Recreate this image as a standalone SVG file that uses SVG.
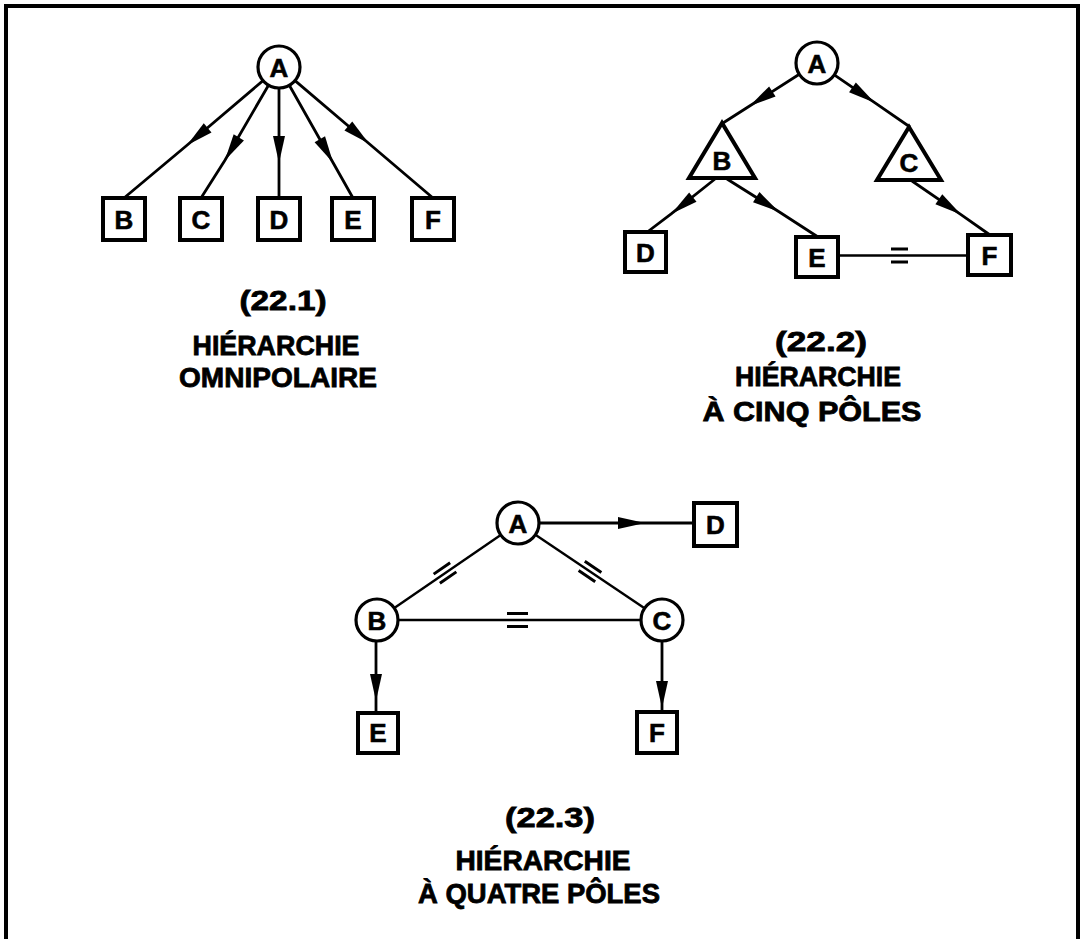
<svg xmlns="http://www.w3.org/2000/svg" width="1084" height="939" viewBox="0 0 1084 939">
<defs>
<style>
.bg{fill:#fff}
.frame{fill:none;stroke:#000;stroke-width:4}
.node{fill:#fff;stroke:#000;stroke-width:4}
.circ{fill:#fff;stroke:#000;stroke-width:3.2}
.lbl{font-family:"Liberation Sans",Arial,sans-serif;font-weight:bold;font-size:26px;fill:#000;stroke:#000;stroke-width:0.6;text-anchor:middle}
.cap{font-family:"Liberation Sans",Arial,sans-serif;font-weight:bold;font-size:28px;fill:#000;stroke:#000;stroke-width:0.8;text-anchor:middle}
.edge{fill:none;stroke:#000;stroke-width:2.8;marker-mid:url(#ah)}
.link{fill:none;stroke:#000;stroke-width:2.4}
.eq{fill:none;stroke:#000;stroke-width:3}
</style>
<marker id="ah" markerUnits="userSpaceOnUse" viewBox="-28 -7 30 14" markerWidth="30" markerHeight="14" refX="0" refY="0" orient="auto">
<path d="M0,0 L-27,-6 L-27,6 Z" fill="#000"/>
</marker>
</defs>
<rect class="bg" x="0" y="0" width="1084" height="939"/>
<path class="frame" d="M6,939 V6 H1078 V939"/>

<g id="connectors">
<!-- diagram 22.1 -->
<path class="edge" d="M263,80.6 L187,145.3 L124,198"/>
<path class="edge" d="M268.5,85.2 L224.8,160.4 L201,198"/>
<path class="edge" d="M279,88 L279,163 L279,198"/>
<path class="edge" d="M289.3,85.3 L333.1,162.7 L353,198"/>
<path class="edge" d="M295,80.6 L368.9,143.5 L433,198"/>
<!-- diagram 22.2 -->
<path class="edge" d="M799.3,74.3 L749.6,106 L723,123"/>
<path class="edge" d="M834.3,74.9 L874.7,102.7 L910,127"/>
<path class="edge" d="M715,179 L671.5,213.7 L646,233"/>
<path class="edge" d="M727,179 L779,211.7 L818,237"/>
<path class="edge" d="M912,181 L961,214.6 L990,235"/>
<path class="link" d="M838,255.5 H968"/>
<path class="eq" d="M891,249 H908 M891,262 H908"/>
<!-- diagram 22.3 -->
<path class="edge" d="M539,523 L645,523 L694,523"/>
<path class="link" d="M500.7,534.9 L394.3,608.1"/>
<path class="link" d="M535.4,534.7 L644.6,608.3"/>
<path class="link" d="M398,620 H641"/>
<g transform="translate(445,573) rotate(-34.5)"><path class="eq" d="M-10,-5.5 H10 M-10,5.5 H10"/></g>
<g transform="translate(590,571.5) rotate(34)"><path class="eq" d="M-10,-5.5 H10 M-10,5.5 H10"/></g>
<path class="eq" d="M507,613.5 H528 M507,626.5 H528"/>
<path class="edge" d="M376,641 L376,701 L376,713"/>
<path class="edge" d="M662,641 L662,708 L662,712"/>
</g>

<!-- diagram 22.1 nodes -->
<g id="d1-A"><circle class="circ" cx="279" cy="67" r="21"/><text class="lbl" x="279" y="76.5">A</text></g>
<g id="d1-B"><rect class="node" x="103" y="198" width="42" height="42"/><text class="lbl" x="124" y="228.5">B</text></g>
<g id="d1-C"><rect class="node" x="180" y="198" width="42" height="42"/><text class="lbl" x="201" y="228.5">C</text></g>
<g id="d1-D"><rect class="node" x="258" y="198" width="42" height="42"/><text class="lbl" x="279" y="228.5">D</text></g>
<g id="d1-E"><rect class="node" x="332" y="198" width="42" height="42"/><text class="lbl" x="353" y="228.5">E</text></g>
<g id="d1-F"><rect class="node" x="412" y="198" width="42" height="42"/><text class="lbl" x="433" y="228.5">F</text></g>

<!-- diagram 22.2 nodes -->
<g id="d2-A"><circle class="circ" cx="817" cy="63" r="21"/><text class="lbl" x="817" y="72.5">A</text></g>
<g id="d2-B"><path class="node" d="M722,123 L689,178 L755,178 Z"/><text class="lbl" x="722" y="170">B</text></g>
<g id="d2-C"><path class="node" d="M909,127 L877,180 L941,180 Z"/><text class="lbl" x="909" y="172">C</text></g>
<g id="d2-D"><rect class="node" x="625" y="232" width="41" height="40"/><text class="lbl" x="645.5" y="261.5">D</text></g>
<g id="d2-E"><rect class="node" x="796" y="237" width="42" height="40"/><text class="lbl" x="817" y="266.5">E</text></g>
<g id="d2-F"><rect class="node" x="968" y="235" width="43" height="40"/><text class="lbl" x="989.5" y="264.5">F</text></g>

<!-- diagram 22.3 nodes -->
<g id="d3-A"><circle class="circ" cx="518" cy="523" r="21"/><text class="lbl" x="518" y="532.5">A</text></g>
<g id="d3-B"><circle class="circ" cx="377" cy="620" r="21"/><text class="lbl" x="377" y="629.5">B</text></g>
<g id="d3-C"><circle class="circ" cx="662" cy="620" r="21"/><text class="lbl" x="662" y="629.5">C</text></g>
<g id="d3-D"><rect class="node" x="694" y="503" width="43" height="43"/><text class="lbl" x="715.5" y="534">D</text></g>
<g id="d3-E"><rect class="node" x="358" y="713" width="40" height="40"/><text class="lbl" x="378" y="742">E</text></g>
<g id="d3-F"><rect class="node" x="637" y="712" width="40" height="41"/><text class="lbl" x="657" y="741.5">F</text></g>

<!-- captions -->
<g id="caption-1">
<text class="cap" x="283" y="310" textLength="87" lengthAdjust="spacingAndGlyphs">(22.1)</text>
<text class="cap" x="276" y="355" textLength="167" lengthAdjust="spacingAndGlyphs">HIÉRARCHIE</text>
<text class="cap" x="278" y="387" textLength="198" lengthAdjust="spacingAndGlyphs">OMNIPOLAIRE</text>
</g>
<g id="caption-2">
<text class="cap" x="821" y="351" textLength="92" lengthAdjust="spacingAndGlyphs">(22.2)</text>
<text class="cap" x="818" y="386" textLength="166" lengthAdjust="spacingAndGlyphs">HIÉRARCHIE</text>
<text class="cap" x="812" y="421" textLength="219" lengthAdjust="spacingAndGlyphs">À CINQ PÔLES</text>
</g>
<g id="caption-3">
<text class="cap" x="550" y="827" textLength="90" lengthAdjust="spacingAndGlyphs">(22.3)</text>
<text class="cap" x="543" y="870" textLength="175" lengthAdjust="spacingAndGlyphs">HIÉRARCHIE</text>
<text class="cap" x="539" y="903" textLength="242" lengthAdjust="spacingAndGlyphs">À QUATRE PÔLES</text>
</g>
</svg>
